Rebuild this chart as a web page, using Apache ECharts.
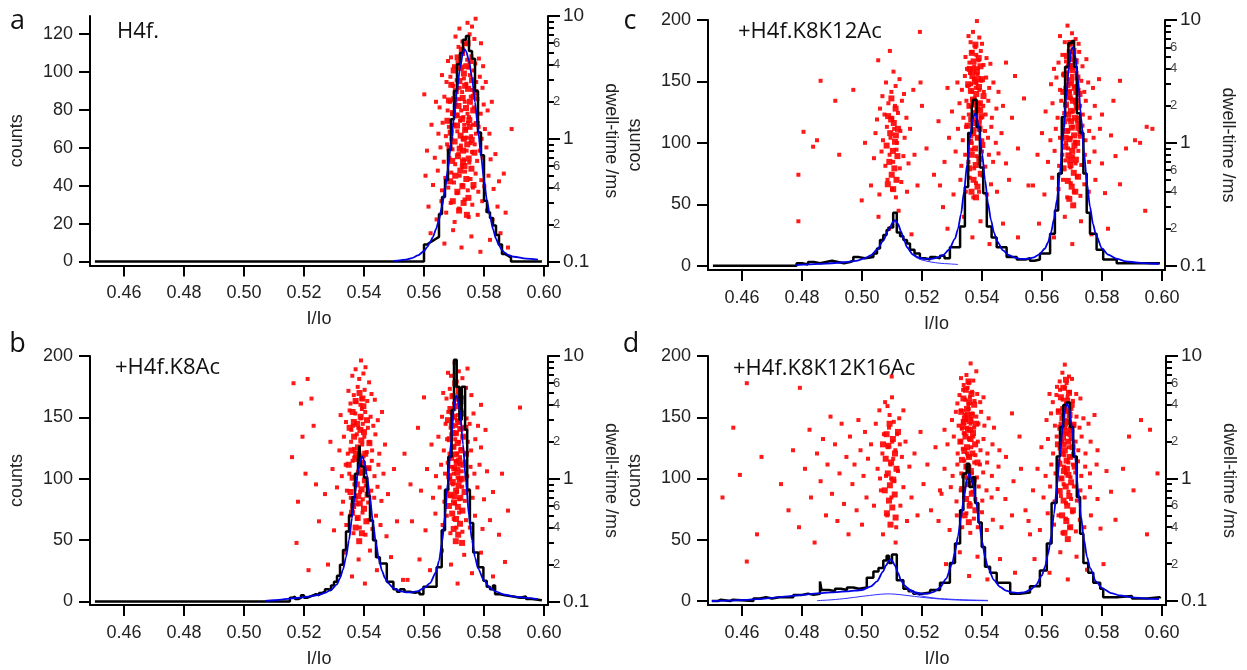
<!DOCTYPE html>
<html><head><meta charset="utf-8">
<script src="https://cdn.jsdelivr.net/npm/echarts@6/dist/echarts.min.js"></script>
<style>html,body{margin:0;padding:0;background:#fff}#c{width:1247px;height:670px}</style>
</head><body><div id="c"></div>
<script>
// ---------- tick labels / texts ----------
const xTicks = [0.46,0.48,0.50,0.52,0.54,0.56,0.58,0.60];
const countTicksA = [0,20,40,60,80,100,120];
const countTicksBCD = [0,50,100,150,200];
const dwellMajor = [0.1,1,10];
const dwellMinor = [0.2,0.3,0.4,0.5,0.6,0.7,0.8,0.9,2,3,4,5,6,7,8,9];
const dwellMinorLabels = [0.2,0.4,0.6,2,4,6];
const letters = ['a','b','c','d'];
const titles = ['H4f.','+H4f.K8Ac','+H4f.K8K12Ac','+H4f.K8K12K16Ac'];

// ---------- histograms (bin left edge, counts) ----------
const histA = [[0.4503,0],[0.560,9],[0.561,10],[0.562,11],[0.563,12],[0.564,13],[0.565,25],[0.566,34],[0.567,43],[0.568,59],[0.569,75],[0.570,90],[0.571,104],[0.572,110],[0.573,117],[0.574,119],[0.575,111],[0.576,107],[0.577,90],[0.578,68],[0.579,56],[0.580,32],[0.581,26],[0.582,23],[0.583,19],[0.584,14],[0.585,9],[0.586,4],[0.587,3],[0.588,2],[0.589,0],[0.5993,0]];
const histB = [[0.4503,0],[0.5153,3],[0.516,4],[0.517,2],[0.518,3],[0.519,5],[0.520,3],[0.521,4],[0.522,5],[0.523,6],[0.524,5],[0.525,7],[0.526,8],[0.527,10],[0.528,9],[0.529,13],[0.530,16],[0.531,21],[0.532,30],[0.533,42],[0.534,57],[0.535,70],[0.536,85],[0.537,104],[0.538,116],[0.5385,127],[0.539,110],[0.540,101],[0.541,86],[0.542,66],[0.543,50],[0.544,36],[0.5453,31],[0.5476,16],[0.5498,10],[0.551,8],[0.552,10],[0.5535,8],[0.5553,7],[0.557,8],[0.5585,6],[0.5598,12],[0.5642,28],[0.5659,58],[0.5670,91],[0.5681,118],[0.5692,156],[0.5700,197],[0.5709,175],[0.5718,148],[0.5726,175],[0.5737,140],[0.5744,91],[0.5753,64],[0.5764,40],[0.5781,28],[0.5798,17],[0.5809,12],[0.582,10],[0.583,13],[0.5837,6],[0.585,5],[0.587,4],[0.5898,3],[0.592,4],[0.594,2],[0.596,1],[0.5993,1]];
const histC = [[0.4503,0],[0.4782,2],[0.480,1],[0.482,3],[0.484,2],[0.486,3],[0.488,4],[0.490,3],[0.492,2],[0.494,3],[0.496,4],[0.4971,7],[0.499,6],[0.501,7],[0.5038,10],[0.505,14],[0.506,21],[0.5071,25],[0.5082,29],[0.509,31],[0.5104,43],[0.5116,27],[0.5127,24],[0.5138,21],[0.515,18],[0.516,13],[0.5175,10],[0.5193,6],[0.521,5],[0.5227,7],[0.5245,6],[0.526,8],[0.5275,6],[0.5293,15],[0.5327,32],[0.5343,64],[0.5354,108],[0.5366,129],[0.5371,135],[0.5382,113],[0.5393,80],[0.5404,59],[0.5416,32],[0.5432,23],[0.5449,15],[0.5482,7],[0.5516,5],[0.5545,6],[0.556,4],[0.5575,5],[0.5593,10],[0.5627,26],[0.5643,45],[0.5654,75],[0.5666,121],[0.5677,162],[0.5688,181],[0.5699,183],[0.5707,162],[0.5716,124],[0.5727,108],[0.5738,75],[0.5749,43],[0.5760,26],[0.5782,13],[0.5804,5],[0.5849,2],[0.5993,2]];
const histD = [[0.4499,0],[0.452,1],[0.453,0],[0.456,1],[0.457,0],[0.4638,2],[0.466,3],[0.468,2],[0.470,3],[0.4725,3],[0.4771,5],[0.480,6],[0.482,5],[0.4838,6],[0.486,16],[0.4865,9],[0.489,8],[0.491,10],[0.493,9],[0.495,11],[0.4971,10],[0.499,11],[0.5016,19],[0.5038,24],[0.5055,27],[0.5071,33],[0.5082,37],[0.509,31],[0.5100,38],[0.5116,17],[0.5138,10],[0.5155,8],[0.5171,6],[0.520,7],[0.5227,9],[0.526,15],[0.5293,31],[0.5310,47],[0.5327,74],[0.5338,104],[0.5349,112],[0.5358,93],[0.5369,101],[0.5377,80],[0.5388,64],[0.5399,44],[0.5410,28],[0.5427,23],[0.5449,15],[0.5494,6],[0.5525,7],[0.556,12],[0.5593,25],[0.5616,47],[0.5632,80],[0.5649,118],[0.5660,142],[0.5671,160],[0.5682,162],[0.5693,142],[0.5704,118],[0.5716,85],[0.5727,55],[0.5738,31],[0.5754,23],[0.5771,15],[0.5794,10],[0.5804,3],[0.585,4],[0.590,2],[0.595,3],[0.5993,2]];

// ---------- fitted curves (blue) ----------
const fitA = [[0.550,0.3],[0.552,0.6],[0.554,1.0],[0.556,1.8],[0.558,3.2],[0.560,5.5],[0.561,7.5],[0.562,10],[0.563,13],[0.564,17],[0.565,22],[0.566,29],[0.567,38],[0.568,49],[0.569,62],[0.570,76],[0.571,90],[0.572,102],[0.573,110],[0.5735,112],[0.574,111],[0.575,106],[0.576,97],[0.577,84],[0.578,70],[0.579,56],[0.580,43],[0.581,32],[0.582,24],[0.583,17],[0.584,12],[0.585,8.5],[0.586,6],[0.587,4.5],[0.588,3.5],[0.590,2.5],[0.594,1.5],[0.598,1.0]];
const fitB = [[0.507,0.5],[0.510,1],[0.513,1.8],[0.516,2.5],[0.519,3.2],[0.522,4.2],[0.525,5.5],[0.527,7],[0.529,9.5],[0.531,14],[0.532,19],[0.533,26],[0.534,36],[0.535,50],[0.536,68],[0.537,88],[0.538,106],[0.539,117],[0.5395,118],[0.540,115],[0.541,103],[0.542,84],[0.543,64],[0.544,47],[0.545,34],[0.546,25],[0.547,19],[0.548,15],[0.550,10.5],[0.552,8.5],[0.554,7.5],[0.556,7.5],[0.558,8.5],[0.560,11],[0.562,15],[0.564,24],[0.565,33],[0.566,48],[0.567,70],[0.568,98],[0.569,130],[0.570,158],[0.5707,168],[0.571,167],[0.572,155],[0.573,128],[0.574,97],[0.575,70],[0.576,50],[0.577,36],[0.578,27],[0.580,17],[0.582,11],[0.584,8],[0.587,5.5],[0.590,4],[0.594,3],[0.598,2]];
const fitC = [[0.478,0.5],[0.482,1],[0.486,1.5],[0.490,2],[0.494,2.8],[0.498,4],[0.501,6],[0.503,8.5],[0.505,13],[0.507,20],[0.509,30],[0.5105,36],[0.511,37],[0.512,34],[0.513,28],[0.514,21],[0.515,15],[0.517,9],[0.519,6.5],[0.521,5.5],[0.523,5.5],[0.525,6.5],[0.527,8.5],[0.529,13],[0.531,22],[0.532,30],[0.533,42],[0.534,60],[0.535,82],[0.536,104],[0.537,120],[0.5377,124],[0.538,123],[0.539,112],[0.540,92],[0.541,70],[0.542,51],[0.543,37],[0.544,27],[0.545,20],[0.547,12.5],[0.549,8.5],[0.551,6.5],[0.553,5.5],[0.555,5.5],[0.557,6.5],[0.559,9],[0.561,14],[0.562,19],[0.563,27],[0.564,38],[0.565,54],[0.566,76],[0.567,104],[0.568,135],[0.569,162],[0.5698,176],[0.5703,178],[0.571,172],[0.572,152],[0.573,122],[0.574,92],[0.575,67],[0.576,48],[0.577,34],[0.578,25],[0.580,14],[0.582,9],[0.585,5.5],[0.588,3.5],[0.592,2.5],[0.596,1.8],[0.599,1.5]];
const compC = [[0.515,15],[0.517,8.5],[0.519,5.5],[0.521,4],[0.523,3],[0.526,2],[0.529,1.5],[0.532,1]];
const fitD = [[0.450,0],[0.455,0.3],[0.460,0.8],[0.465,1.5],[0.470,2.5],[0.475,3.8],[0.480,5],[0.485,6.2],[0.490,7],[0.495,7.8],[0.500,9],[0.503,12],[0.505,16],[0.507,24],[0.508,29],[0.509,33],[0.5095,34],[0.510,33],[0.511,29],[0.512,23],[0.513,17],[0.514,13],[0.516,9],[0.518,7],[0.520,6],[0.522,6],[0.524,7.5],[0.526,11],[0.528,18],[0.530,30],[0.531,40],[0.532,53],[0.533,68],[0.534,85],[0.535,99],[0.5357,104],[0.536,103],[0.537,96],[0.538,82],[0.539,65],[0.540,49],[0.541,36],[0.542,27],[0.544,17],[0.546,11.5],[0.548,8.5],[0.550,7],[0.552,6.5],[0.554,7],[0.556,9],[0.558,13],[0.560,21],[0.561,28],[0.562,38],[0.563,52],[0.564,71],[0.565,94],[0.566,120],[0.567,145],[0.568,159],[0.5683,161],[0.569,158],[0.570,142],[0.571,118],[0.572,92],[0.573,69],[0.574,50],[0.575,36],[0.576,27],[0.578,16],[0.580,10.5],[0.583,6.5],[0.586,4.5],[0.590,3],[0.595,2],[0.599,1.5]];
const compD1 = [[0.485,0.3],[0.490,1],[0.495,2.2],[0.500,3.8],[0.505,5.2],[0.508,5.8],[0.511,5.6],[0.515,4.5],[0.520,3],[0.525,1.8],[0.530,1],[0.535,0.5],[0.542,0.2]];
const compD2 = [[0.513,17],[0.515,10],[0.518,5.5],[0.521,3.5],[0.525,2.2],[0.530,1.4],[0.535,0.9],[0.542,0.5]];

// ---------- events (I/Io, dwell-time in ms) ----------
const dotsA = [[0.5745,8.8],[0.5772,9.5],[0.5718,7.9],[0.5760,8.2],
[0.5705,6.8],[0.5728,6.2],[0.5752,7.1],[0.5768,6.5],[0.5738,5.9],[0.5790,6.0],[0.5715,5.6],
[0.5690,4.6],[0.5712,4.2],[0.5730,4.9],[0.5744,4.4],[0.5758,4.7],[0.5771,4.1],[0.5783,4.5],[0.5700,3.9],[0.5722,3.7],[0.5748,3.8],[0.5765,3.6],[0.5680,4.3],[0.5797,3.9],
[0.5660,3.3],[0.5675,2.9],[0.5688,3.2],[0.5698,2.7],[0.5709,3.0],[0.5719,2.6],[0.5733,3.1],[0.5741,2.8],[0.5753,3.3],[0.5762,2.5],[0.5774,2.9],[0.5786,3.2],[0.5795,2.6],[0.5806,2.9],[0.5727,2.4],[0.5703,2.3],
[0.5601,2.3],[0.5640,2.0],[0.5652,1.8],[0.5668,2.2],[0.5679,1.7],[0.5686,2.0],[0.5694,1.6],[0.5707,1.9],[0.5716,2.1],[0.5724,1.7],[0.5736,2.0],[0.5745,1.6],[0.5756,2.2],[0.5766,1.8],[0.5778,2.1],[0.5789,1.6],[0.5799,1.9],[0.5812,1.7],[0.5826,2.0],[0.5731,1.5],[0.5750,1.5],[0.5712,1.55],
[0.5625,1.3],[0.5648,1.1],[0.5662,1.35],[0.5673,1.05],[0.5683,1.25],[0.5692,1.0],[0.5701,1.3],[0.5711,1.15],[0.5720,1.4],[0.5729,1.0],[0.5739,1.2],[0.5747,1.35],[0.5757,1.05],[0.5764,1.3],[0.5773,1.1],[0.5782,1.25],[0.5792,1.0],[0.5803,1.2],[0.5818,1.1],[0.5892,1.2],[0.5734,1.3],[0.5743,1.02],
[0.5610,0.8],[0.5636,0.7],[0.5655,0.85],[0.5666,0.65],[0.5677,0.9],[0.5685,0.7],[0.5695,0.82],[0.5704,0.62],[0.5714,0.75],[0.5723,0.88],[0.5732,0.68],[0.5742,0.8],[0.5751,0.64],[0.5760,0.78],[0.5769,0.9],[0.5777,0.66],[0.5786,0.8],[0.5796,0.7],[0.5808,0.85],[0.5822,0.68],[0.5838,0.75],[0.5726,0.6],[0.5756,0.92],
[0.5605,0.5],[0.5630,0.42],[0.5646,0.55],[0.5660,0.38],[0.5671,0.48],[0.5681,0.4],[0.5691,0.53],[0.5700,0.44],[0.5710,0.36],[0.5719,0.5],[0.5728,0.42],[0.5737,0.54],[0.5746,0.38],[0.5755,0.47],[0.5763,0.4],[0.5772,0.52],[0.5781,0.37],[0.5791,0.46],[0.5801,0.41],[0.5815,0.5],[0.5832,0.39],[0.5850,0.45],[0.5866,0.52],
[0.5615,0.28],[0.5642,0.22],[0.5658,0.31],[0.5674,0.25],[0.5689,0.3],[0.5702,0.21],[0.5717,0.27],[0.5735,0.32],[0.5749,0.23],[0.5761,0.29],[0.5779,0.24],[0.5794,0.31],[0.5810,0.26],[0.5828,0.22],[0.5845,0.28],[0.5872,0.25],
[0.5622,0.17],[0.5668,0.14],[0.5697,0.18],[0.5725,0.13],[0.5758,0.16],[0.5788,0.12],[0.5820,0.15],[0.5855,0.17],[0.5880,0.13]];
const coreA = [[0.5712,4.6],[0.5741,3.9],[0.5726,5.3],[0.5755,4.3],[0.5699,3.6],[0.5733,3.4],[0.5760,3.0],[0.5718,2.95],[0.5691,2.75],[0.5747,2.55],[0.5771,2.4],[0.5706,2.45],[0.5729,2.15],[0.5683,2.05],[0.5753,2.0],[0.5715,1.85],[0.5740,1.78],[0.5764,1.7],[0.5697,1.62],[0.5727,1.45],[0.5678,1.4],[0.5751,1.42],[0.5710,1.28],[0.5737,1.18],[0.5776,1.32],[0.5689,1.12],[0.5722,1.06],[0.5759,0.98],[0.5702,0.95],[0.5744,0.9],[0.5685,0.84],[0.5730,0.8],[0.5768,0.77],[0.5713,0.72],[0.5749,0.69],[0.5694,0.66],[0.5735,0.6],[0.5721,0.55],[0.5758,0.57],[0.5704,0.5],[0.5741,0.47],[0.5687,0.45],[0.5728,0.41],[0.5765,0.42],[0.5711,0.37],[0.5748,0.33],[0.5732,0.3],[0.5696,0.31],[0.5717,0.26],[0.5743,0.24],[0.5737,2.7],[0.5723,3.8],[0.5708,1.55],[0.5733,1.0],[0.5752,1.25],[0.5719,0.83],[0.5766,2.2],[0.5701,2.1],[0.5745,6.0],[0.5730,0.65]];

const dotsB = [[0.5390,9.2],[0.5372,7.8],[0.5405,8.1],[0.5361,6.9],[0.5384,6.5],[0.5398,7.2],[0.5417,6.1],
[0.5348,5.2],[0.5366,4.8],[0.5379,5.6],[0.5391,4.5],[0.5402,5.3],[0.5411,4.3],[0.5425,4.9],[0.5355,4.1],[0.5388,4.0],[0.5436,4.4],[0.5374,4.2],
[0.5322,3.3],[0.5340,2.9],[0.5352,3.6],[0.5363,2.7],[0.5371,3.4],[0.5381,2.6],[0.5389,3.1],[0.5396,2.8],[0.5404,3.5],[0.5413,2.6],[0.5422,3.2],[0.5431,2.7],[0.5446,3.0],[0.5460,3.5],[0.5358,2.5],[0.5393,3.7],
[0.5288,2.0],[0.5318,1.7],[0.5333,2.2],[0.5346,1.6],[0.5357,2.0],[0.5367,1.75],[0.5376,2.3],[0.5385,1.55],[0.5394,1.9],[0.5401,2.2],[0.5409,1.65],[0.5418,2.0],[0.5427,1.7],[0.5438,2.3],[0.5451,1.6],[0.5470,1.9],[0.5369,1.5],[0.5399,1.52],
[0.5295,1.2],[0.5326,1.05],[0.5339,1.3],[0.5351,1.1],[0.5362,1.4],[0.5373,1.0],[0.5383,1.25],[0.5392,1.1],[0.5400,1.35],[0.5408,1.0],[0.5416,1.2],[0.5426,1.4],[0.5435,1.05],[0.5448,1.3],[0.5465,1.1],[0.5500,1.2],
[0.5270,0.75],[0.5310,0.85],[0.5330,0.65],[0.5343,0.8],[0.5356,0.7],[0.5368,0.9],[0.5378,0.62],[0.5387,0.78],[0.5396,0.68],[0.5406,0.88],[0.5414,0.64],[0.5424,0.8],[0.5434,0.7],[0.5445,0.86],[0.5458,0.66],[0.5480,0.75],
[0.5250,0.45],[0.5300,0.38],[0.5325,0.52],[0.5341,0.42],[0.5354,0.5],[0.5365,0.36],[0.5377,0.47],[0.5386,0.4],[0.5395,0.53],[0.5405,0.35],[0.5415,0.46],[0.5428,0.39],[0.5440,0.5],[0.5455,0.42],[0.5475,0.34],[0.5510,0.45],
[0.5280,0.2],[0.5335,0.25],[0.5360,0.16],[0.5382,0.22],[0.5403,0.14],[0.5420,0.26],[0.5443,0.18],[0.5490,0.23],[0.5530,0.15],
[0.5160,1.5],[0.5165,6.0],[0.5175,0.3],[0.5190,4.1],[0.5205,1.1],[0.5215,0.18],[0.5212,6.5],[0.5232,2.7],[0.5180,0.65],[0.5240,0.9],[0.5195,2.2],[0.5225,4.5],
[0.5702,8.8],[0.5716,7.5],[0.5690,6.9],[0.5728,6.6],[0.5709,6.2],[0.5745,7.9],[0.5680,7.3],
[0.5686,5.4],[0.5697,4.8],[0.5705,5.7],[0.5712,4.4],[0.5720,5.1],[0.5731,4.6],[0.5740,5.5],[0.5675,4.5],[0.5700,4.1],[0.5724,4.0],[0.5758,4.8],[0.5664,5.0],
[0.5660,3.2],[0.5672,2.8],[0.5681,3.5],[0.5689,2.6],[0.5695,3.1],[0.5701,3.7],[0.5707,2.7],[0.5713,3.3],[0.5718,2.9],[0.5725,3.6],[0.5733,2.6],[0.5742,3.1],[0.5752,2.8],[0.5765,3.4],[0.5780,2.7],[0.5692,3.4],[0.5710,3.0],[0.5722,2.55],
[0.5625,1.9],[0.5648,2.2],[0.5666,1.7],[0.5677,2.1],[0.5685,1.6],[0.5691,2.3],[0.5698,1.8],[0.5704,2.1],[0.5711,1.6],[0.5717,2.0],[0.5723,1.75],[0.5729,2.2],[0.5737,1.6],[0.5746,2.0],[0.5757,1.7],[0.5771,2.1],[0.5790,1.8],[0.5694,1.55],[0.5708,2.35],[0.5720,1.5],
[0.5610,1.2],[0.5640,1.05],[0.5657,1.3],[0.5670,1.1],[0.5679,1.35],[0.5687,1.0],[0.5693,1.25],[0.5699,1.1],[0.5706,1.4],[0.5712,1.02],[0.5719,1.3],[0.5726,1.15],[0.5735,1.38],[0.5744,1.05],[0.5755,1.25],[0.5768,1.1],[0.5785,1.3],[0.5810,1.15],[0.5702,1.2],[0.5715,1.2],
[0.5590,0.8],[0.5630,0.7],[0.5652,0.85],[0.5668,0.65],[0.5678,0.8],[0.5686,0.72],[0.5696,0.9],[0.5703,0.63],[0.5710,0.78],[0.5718,0.68],[0.5727,0.86],[0.5736,0.66],[0.5748,0.8],[0.5762,0.7],[0.5778,0.85],[0.5800,0.68],[0.5830,0.78],
[0.5560,0.45],[0.5605,0.38],[0.5638,0.52],[0.5662,0.42],[0.5676,0.5],[0.5688,0.36],[0.5699,0.47],[0.5708,0.4],[0.5717,0.53],[0.5728,0.37],[0.5740,0.46],[0.5753,0.4],[0.5770,0.5],[0.5795,0.39],[0.5820,0.46],[0.5850,0.35],
[0.5545,0.15],[0.5585,0.22],[0.5620,0.18],[0.5660,0.26],[0.5690,0.2],[0.5712,0.14],[0.5734,0.24],[0.5760,0.17],[0.5790,0.25],[0.5830,0.16],[0.5870,0.21],
[0.5790,4.0],[0.5805,2.5],[0.5880,0.55],[0.5920,3.8],[0.5860,1.1],[0.5600,4.6],[0.5580,2.6],[0.5535,1.6],[0.5555,0.9]];
const coreB = [[0.5385,5.0],[0.5372,4.3],[0.5398,3.9],[0.5362,3.5],[0.5389,3.2],[0.5410,3.0],[0.5377,2.8],[0.5352,2.6],[0.5400,2.4],[0.5367,2.2],[0.5391,2.05],[0.5418,1.95],[0.5380,1.8],[0.5358,1.7],[0.5404,1.6],[0.5371,1.45],[0.5393,1.35],[0.5349,1.3],[0.5415,1.22],[0.5383,1.12],[0.5362,1.02],[0.5403,0.97],[0.5376,0.9],[0.5392,0.82],[0.5355,0.78],[0.5412,0.74],[0.5369,0.68],[0.5386,0.63],[0.5400,0.57],[0.5360,0.53],[0.5379,0.48],[0.5408,0.45],[0.5372,0.4],[0.5393,0.36],[0.5384,0.31],[0.5366,2.9],[0.5395,4.5],[0.5388,2.5],[0.5374,1.6],[0.5397,1.15],[0.5381,0.72],[0.5364,0.6],
[0.5704,6.0],[0.5716,5.2],[0.5695,4.7],[0.5722,4.3],[0.5709,3.9],[0.5688,3.7],[0.5728,3.4],[0.5700,3.2],[0.5714,2.9],[0.5693,2.7],[0.5721,2.55],[0.5706,2.35],[0.5731,2.2],[0.5686,2.1],[0.5712,1.95],[0.5698,1.82],[0.5724,1.7],[0.5705,1.58],[0.5690,1.48],[0.5717,1.4],[0.5732,1.3],[0.5701,1.22],[0.5711,1.12],[0.5684,1.05],[0.5726,1.0],[0.5696,0.94],[0.5715,0.88],[0.5707,0.8],[0.5735,0.78],[0.5689,0.74],[0.5721,0.7],[0.5700,0.64],[0.5713,0.59],[0.5728,0.55],[0.5694,0.52],[0.5707,0.47],[0.5720,0.43],[0.5699,0.39],[0.5714,0.35],[0.5706,0.31],[0.5727,0.3],[0.5718,4.8],[0.5697,2.35],[0.5709,1.35],[0.5719,0.98],[0.5702,0.72],[0.5740,1.6],[0.5680,3.0],[0.5738,2.6],[0.5683,0.6]];

const dotsC = [[0.5093,5.6],[0.5105,3.8],[0.5193,8.0],[0.4862,3.2],[0.5054,4.7],
[0.5080,3.1],[0.5112,2.9],[0.5125,3.3],[0.5098,2.6],[0.5068,2.4],[0.5140,2.5],[0.5171,2.7],[0.5195,3.1],
[0.5060,1.9],[0.5075,1.7],[0.5088,2.1],[0.5101,1.6],[0.5110,2.0],[0.5120,1.75],[0.5133,2.2],[0.5148,1.6],[0.5050,1.55],
[0.5045,1.2],[0.5070,1.05],[0.5083,1.35],[0.5095,1.1],[0.5107,1.3],[0.5117,1.0],[0.5128,1.25],[0.5142,1.1],[0.5160,1.3],
[0.5040,0.75],[0.5065,0.85],[0.5078,0.65],[0.5092,0.8],[0.5104,0.7],[0.5115,0.88],[0.5126,0.62],[0.5138,0.78],[0.5155,0.68],[0.5175,0.8],
[0.5030,0.45],[0.5058,0.38],[0.5085,0.5],[0.5100,0.42],[0.5113,0.36],[0.5131,0.48],[0.5150,0.4],[0.5185,0.45],
[0.5055,0.25],[0.5090,0.2],[0.5122,0.28],[0.5165,0.18],
[0.4788,0.55],[0.4805,1.23],[0.4837,0.93],[0.4788,0.23],[0.4850,1.05],[0.4911,2.2],[0.4924,0.8],[0.4971,2.7],[0.4999,0.34],[0.5010,1.0],[0.5200,2.0],[0.5215,0.9],[0.5240,0.55],[0.5255,1.5],[0.5270,0.3],[0.5285,2.8],
[0.5383,9.8],[0.5370,8.0],[0.5391,7.2],[0.5362,6.6],[0.5378,6.0],[0.5400,6.4],[0.5355,7.4],
[0.5345,5.0],[0.5358,4.5],[0.5366,5.5],[0.5374,4.2],[0.5381,5.2],[0.5389,4.7],[0.5396,5.6],[0.5405,4.3],[0.5415,4.9],[0.5350,4.0],[0.5385,4.05],[0.5428,4.4],
[0.5318,3.1],[0.5333,2.7],[0.5343,3.5],[0.5352,2.9],[0.5360,3.7],[0.5367,2.6],[0.5373,3.3],[0.5379,2.8],[0.5385,3.6],[0.5391,2.7],[0.5398,3.2],[0.5406,2.6],[0.5414,3.4],[0.5424,2.8],[0.5438,3.1],[0.5455,2.6],[0.5364,3.0],[0.5382,3.05],
[0.5300,1.8],[0.5325,2.1],[0.5338,1.6],[0.5348,2.2],[0.5356,1.7],[0.5363,2.0],[0.5370,1.55],[0.5376,2.3],[0.5384,1.8],[0.5390,2.1],[0.5397,1.6],[0.5404,2.0],[0.5412,1.7],[0.5421,2.2],[0.5433,1.6],[0.5448,1.9],[0.5470,2.0],[0.5368,2.25],[0.5393,1.5],
[0.5290,1.1],[0.5320,1.3],[0.5336,1.05],[0.5347,1.35],[0.5357,1.15],[0.5366,1.0],[0.5375,1.3],[0.5383,1.1],[0.5392,1.4],[0.5401,1.05],[0.5410,1.25],[0.5420,1.1],[0.5431,1.35],[0.5446,1.0],[0.5465,1.2],
[0.5275,0.7],[0.5312,0.85],[0.5331,0.65],[0.5344,0.8],[0.5355,0.7],[0.5365,0.88],[0.5374,0.62],[0.5382,0.78],[0.5391,0.68],[0.5400,0.85],[0.5411,0.64],[0.5423,0.8],[0.5437,0.7],[0.5455,0.82],[0.5480,0.68],
[0.5260,0.45],[0.5305,0.38],[0.5328,0.5],[0.5346,0.4],[0.5359,0.52],[0.5371,0.36],[0.5380,0.47],[0.5390,0.4],[0.5402,0.54],[0.5416,0.38],[0.5430,0.46],[0.5450,0.4],[0.5490,0.5],
[0.5285,0.2],[0.5340,0.25],[0.5368,0.17],[0.5395,0.23],[0.5425,0.15],[0.5470,0.22],[0.5520,0.17],
[0.5500,1.6],[0.5520,0.9],[0.5540,2.3],[0.5555,0.45],[0.5510,3.5],[0.5480,4.5],
[0.5685,9.0],[0.5700,7.8],[0.5712,7.0],[0.5676,6.6],[0.5693,6.2],[0.5722,6.4],[0.5660,7.4],
[0.5668,5.2],[0.5680,4.6],[0.5689,5.6],[0.5697,4.3],[0.5705,5.3],[0.5714,4.7],[0.5724,5.5],[0.5735,4.2],[0.5655,4.5],[0.5702,4.05],[0.5748,4.8],[0.5640,4.0],
[0.5630,3.0],[0.5648,3.4],[0.5660,2.7],[0.5670,3.6],[0.5678,2.8],[0.5686,3.3],[0.5693,2.6],[0.5700,3.5],[0.5708,2.9],[0.5715,3.7],[0.5722,2.7],[0.5731,3.2],[0.5741,2.6],[0.5754,3.1],[0.5770,2.8],[0.5683,3.75],[0.5697,3.0],[0.5711,2.55],[0.5790,3.3],
[0.5612,1.8],[0.5635,2.1],[0.5652,1.6],[0.5664,2.2],[0.5674,1.75],[0.5682,2.0],[0.5690,1.55],[0.5697,2.3],[0.5704,1.8],[0.5711,2.1],[0.5719,1.6],[0.5727,2.0],[0.5736,1.7],[0.5746,2.2],[0.5759,1.6],[0.5776,2.0],[0.5800,1.7],[0.5687,2.35],[0.5716,1.52],
[0.5600,1.2],[0.5628,1.05],[0.5646,1.3],[0.5660,1.1],[0.5671,1.4],[0.5680,1.0],[0.5688,1.25],[0.5695,1.1],[0.5703,1.35],[0.5710,1.02],[0.5718,1.3],[0.5726,1.12],[0.5735,1.38],[0.5745,1.05],[0.5757,1.25],[0.5772,1.1],[0.5793,1.3],[0.5830,1.15],
[0.5585,0.8],[0.5620,0.7],[0.5642,0.86],[0.5657,0.65],[0.5668,0.8],[0.5678,0.72],[0.5687,0.9],[0.5695,0.63],[0.5703,0.78],[0.5712,0.68],[0.5721,0.86],[0.5731,0.66],[0.5743,0.8],[0.5757,0.7],[0.5775,0.85],[0.5800,0.68],[0.5845,0.78],
[0.5570,0.45],[0.5608,0.38],[0.5634,0.52],[0.5655,0.42],[0.5670,0.5],[0.5684,0.36],[0.5696,0.47],[0.5706,0.4],[0.5716,0.53],[0.5728,0.37],[0.5741,0.46],[0.5756,0.4],[0.5778,0.5],[0.5810,0.39],[0.5860,0.46],
[0.5590,0.22],[0.5640,0.17],[0.5676,0.25],[0.5701,0.15],[0.5730,0.23],[0.5765,0.18],[0.5820,0.2],
[0.5949,1.35],[0.5927,1.0],[0.5944,0.28],[0.5838,2.2],[0.5880,0.9],[0.5910,1.05],[0.5860,3.2],[0.5968,1.3]];
const coreC = [[0.5098,2.3],[0.5112,1.9],[0.5087,1.65],[0.5106,1.45],[0.5120,1.3],[0.5094,1.2],[0.5110,1.02],[0.5082,0.95],[0.5103,0.86],[0.5118,0.78],[0.5091,0.7],[0.5108,0.62],[0.5099,0.55],[0.5115,0.5],[0.5086,0.46],[0.5104,0.42],[0.5097,1.55],[0.5113,1.15],
[0.5378,6.3],[0.5366,5.4],[0.5389,4.9],[0.5372,4.6],[0.5395,4.2],[0.5359,4.0],[0.5383,3.8],[0.5368,3.5],[0.5400,3.3],[0.5376,3.15],[0.5354,3.0],[0.5390,2.85],[0.5363,2.65],[0.5381,2.5],[0.5405,2.4],[0.5370,2.25],[0.5393,2.1],[0.5358,2.0],[0.5385,1.9],[0.5374,1.75],[0.5398,1.65],[0.5364,1.55],[0.5380,1.45],[0.5352,1.38],[0.5392,1.3],[0.5371,1.2],[0.5386,1.1],[0.5360,1.02],[0.5401,0.96],[0.5377,0.9],[0.5366,0.8],[0.5391,0.74],[0.5379,0.66],[0.5357,0.62],[0.5396,0.56],[0.5372,0.5],[0.5385,0.44],[0.5365,0.4],[0.5380,0.36],[0.5387,3.3],[0.5375,2.05],[0.5369,3.9],[0.5394,1.85],[0.5361,1.15],
[0.5694,6.5],[0.5705,5.6],[0.5683,5.1],[0.5712,4.6],[0.5690,4.2],[0.5701,3.9],[0.5676,3.6],[0.5718,3.4],[0.5697,3.2],[0.5685,2.95],[0.5709,2.8],[0.5671,2.6],[0.5725,2.5],[0.5692,2.35],[0.5703,2.2],[0.5680,2.05],[0.5716,1.95],[0.5696,1.82],[0.5688,1.7],[0.5710,1.6],[0.5674,1.5],[0.5721,1.42],[0.5699,1.33],[0.5683,1.25],[0.5707,1.15],[0.5692,1.07],[0.5717,1.0],[0.5678,0.93],[0.5701,0.86],[0.5688,0.79],[0.5713,0.73],[0.5695,0.66],[0.5672,0.62],[0.5706,0.57],[0.5720,0.53],[0.5686,0.49],[0.5699,0.44],[0.5711,0.4],[0.5691,0.35],[0.5704,0.31],[0.5702,4.8],[0.5689,2.6],[0.5714,2.2],[0.5697,1.5],[0.5679,1.1],[0.5708,0.95],[0.5694,0.72],[0.5728,1.2]];

const dotsD = [[0.4616,6.0],[0.4571,2.6],[0.4593,1.07],[0.4616,0.21],[0.4535,0.7],[0.4665,1.5],[0.4650,0.35],
[0.4730,0.9],[0.4755,0.55],[0.4770,1.7],[0.4793,5.5],[0.4790,0.4],[0.4810,1.2],[0.4825,2.5],[0.4830,0.7],[0.4842,0.3],[0.4850,1.6],[0.4862,0.95],[0.4870,2.1],[0.4880,0.5],[0.4885,1.3],[0.4895,3.2],[0.4900,0.75],[0.4910,1.9],[0.4918,0.45],[0.4925,1.1],[0.4932,2.8],[0.4940,0.62],[0.4948,1.5],[0.4955,0.35],[0.4960,2.2],[0.4968,0.9],[0.4975,1.3],[0.4982,0.55],[0.4988,3.0],[0.4995,1.7],[0.5000,0.42],[0.5005,1.05],[0.5010,2.4],[0.5015,0.7],[0.5020,1.45],
[0.5030,1.9],[0.5040,0.6],[0.5046,2.8],[0.5052,1.2],[0.5058,3.6],[0.5063,0.8],[0.5068,1.6],[0.5073,2.3],[0.5077,4.2],[0.5080,1.05],[0.5084,0.5],[0.5087,1.8],[0.5090,2.6],[0.5092,3.3],[0.5095,1.3],[0.5098,0.7],[0.5101,2.0],[0.5104,1.45],[0.5106,2.9],[0.5108,0.95],[0.5111,1.7],[0.5114,0.4],[0.5117,2.3],[0.5120,1.15],[0.5124,3.1],[0.5128,0.6],[0.5133,1.5],[0.5138,0.85],[0.5145,2.0],[0.5150,0.45],[0.5158,1.25],[0.5165,0.7],[0.5175,1.6],[0.5185,0.5],[0.5195,2.4],[0.5205,0.9],[0.5218,1.3],[0.5230,0.55],[0.5245,1.8],[0.5260,0.8],[0.5275,2.5],[0.5100,4.6],[0.5085,3.9],[0.5070,0.35],[0.5112,0.3],[0.5060,1.0],[0.5097,1.0],[0.5126,1.9],[0.5099,6.8],[0.5138,3.6],
[0.5362,8.7],[0.5348,7.0],[0.5371,6.3],[0.5339,5.8],[0.5356,6.0],[0.5381,7.5],[0.5330,6.6],
[0.5325,4.8],[0.5337,5.3],[0.5345,4.4],[0.5352,5.5],[0.5360,4.6],[0.5367,5.1],[0.5375,4.3],[0.5384,4.9],[0.5394,4.2],[0.5318,4.1],[0.5355,4.05],[0.5405,4.6],
[0.5300,3.0],[0.5313,3.5],[0.5322,2.7],[0.5330,3.6],[0.5337,2.9],[0.5344,3.3],[0.5350,2.6],[0.5356,3.7],[0.5362,2.8],[0.5368,3.4],[0.5374,2.6],[0.5381,3.2],[0.5388,2.8],[0.5397,3.5],[0.5408,2.7],[0.5422,3.1],[0.5440,2.6],[0.5347,3.0],[0.5365,3.05],[0.5333,2.55],
[0.5285,1.9],[0.5306,2.2],[0.5319,1.6],[0.5328,2.0],[0.5336,1.75],[0.5343,2.3],[0.5350,1.6],[0.5357,2.1],[0.5364,1.8],[0.5371,2.2],[0.5378,1.55],[0.5386,2.0],[0.5395,1.7],[0.5405,2.1],[0.5418,1.6],[0.5435,1.9],[0.5458,1.7],[0.5353,1.52],[0.5339,2.35],
[0.5275,1.2],[0.5302,1.05],[0.5318,1.3],[0.5331,1.1],[0.5341,1.4],[0.5350,1.0],[0.5358,1.25],[0.5366,1.1],[0.5374,1.35],[0.5383,1.02],[0.5393,1.3],[0.5404,1.12],[0.5417,1.35],[0.5433,1.05],[0.5455,1.25],
[0.5265,0.75],[0.5296,0.85],[0.5315,0.65],[0.5329,0.8],[0.5340,0.7],[0.5350,0.9],[0.5359,0.63],[0.5368,0.78],[0.5378,0.68],[0.5389,0.86],[0.5401,0.66],[0.5415,0.8],[0.5432,0.7],[0.5452,0.82],[0.5478,0.68],
[0.5255,0.45],[0.5292,0.38],[0.5316,0.5],[0.5334,0.4],[0.5348,0.52],[0.5361,0.36],[0.5373,0.47],[0.5386,0.4],[0.5400,0.53],[0.5416,0.38],[0.5436,0.46],[0.5465,0.4],[0.5500,0.5],
[0.5280,0.2],[0.5326,0.25],[0.5357,0.16],[0.5385,0.23],[0.5418,0.15],[0.5460,0.22],[0.5510,0.17],
[0.5480,1.5],[0.5505,0.95],[0.5525,2.2],[0.5545,0.55],[0.5500,3.4],[0.5530,1.2],[0.5560,0.35],
[0.5676,8.5],[0.5668,7.3],[0.5690,6.8],[0.5659,6.2],[0.5682,6.0],[0.5700,6.5],[0.5650,5.6],
[0.5648,4.8],[0.5660,5.3],[0.5669,4.4],[0.5677,5.5],[0.5685,4.6],[0.5693,5.1],[0.5703,4.3],[0.5714,4.9],[0.5636,4.2],[0.5680,4.05],[0.5728,4.5],[0.5625,4.9],
[0.5615,3.0],[0.5630,3.4],[0.5643,2.7],[0.5653,3.6],[0.5662,2.8],[0.5670,3.3],[0.5677,2.6],[0.5684,3.5],[0.5691,2.9],[0.5698,3.7],[0.5706,2.7],[0.5715,3.2],[0.5725,2.6],[0.5738,3.1],[0.5755,2.8],[0.5667,3.75],[0.5681,3.0],[0.5695,2.55],[0.5775,3.3],
[0.5598,1.8],[0.5620,2.1],[0.5637,1.6],[0.5649,2.2],[0.5659,1.75],[0.5667,2.0],[0.5675,1.55],[0.5682,2.3],[0.5689,1.8],[0.5696,2.1],[0.5704,1.6],[0.5712,2.0],[0.5721,1.7],[0.5732,2.2],[0.5745,1.6],[0.5762,2.0],[0.5785,1.7],[0.5671,2.35],[0.5700,1.52],
[0.5585,1.2],[0.5612,1.05],[0.5631,1.3],[0.5645,1.1],[0.5656,1.4],[0.5665,1.0],[0.5673,1.25],[0.5680,1.1],[0.5688,1.35],[0.5695,1.02],[0.5703,1.3],[0.5711,1.12],[0.5720,1.38],[0.5731,1.05],[0.5744,1.25],[0.5760,1.1],[0.5782,1.3],[0.5815,1.15],
[0.5570,0.8],[0.5605,0.7],[0.5627,0.86],[0.5642,0.65],[0.5653,0.8],[0.5663,0.72],[0.5672,0.9],[0.5680,0.63],[0.5688,0.78],[0.5697,0.68],[0.5706,0.86],[0.5716,0.66],[0.5728,0.8],[0.5742,0.7],[0.5760,0.85],[0.5785,0.68],[0.5830,0.78],
[0.5555,0.45],[0.5593,0.38],[0.5619,0.52],[0.5640,0.42],[0.5655,0.5],[0.5668,0.36],[0.5680,0.47],[0.5691,0.4],[0.5701,0.53],[0.5713,0.37],[0.5726,0.46],[0.5741,0.4],[0.5763,0.5],[0.5795,0.39],[0.5845,0.46],
[0.5575,0.22],[0.5625,0.17],[0.5661,0.25],[0.5686,0.15],[0.5715,0.23],[0.5750,0.18],[0.5805,0.2],
[0.5930,3.0],[0.5870,1.2],[0.5950,0.35],[0.5985,1.1],[0.5905,0.8],[0.5890,2.2],[0.5960,2.5]];
const coreD = [[0.5092,2.8],[0.5082,2.3],[0.5103,2.1],[0.5088,1.85],[0.5110,1.6],[0.5079,1.45],[0.5097,1.35],[0.5115,1.2],[0.5086,1.1],[0.5104,0.98],[0.5093,0.88],[0.5076,0.8],[0.5109,0.74],[0.5090,0.66],[0.5101,0.58],[0.5083,0.52],[0.5112,0.48],[0.5095,0.42],[0.5070,1.9],[0.5120,2.4],
[0.5355,6.2],[0.5346,5.3],[0.5365,4.9],[0.5338,4.5],[0.5358,4.2],[0.5374,4.0],[0.5350,3.7],[0.5331,3.5],[0.5366,3.3],[0.5343,3.1],[0.5360,2.95],[0.5380,2.8],[0.5336,2.65],[0.5353,2.5],[0.5370,2.35],[0.5345,2.2],[0.5362,2.1],[0.5328,2.0],[0.5377,1.9],[0.5350,1.8],[0.5341,1.68],[0.5368,1.6],[0.5357,1.5],[0.5333,1.42],[0.5385,1.35],[0.5348,1.25],[0.5363,1.15],[0.5340,1.06],[0.5372,0.98],[0.5354,0.9],[0.5334,0.82],[0.5366,0.75],[0.5347,0.68],[0.5359,0.6],[0.5378,0.55],[0.5342,0.5],[0.5356,0.44],[0.5352,3.3],[0.5361,2.5],[0.5339,2.9],
[0.5680,6.4],[0.5671,5.5],[0.5690,5.0],[0.5663,4.6],[0.5684,4.3],[0.5699,4.0],[0.5675,3.7],[0.5656,3.5],[0.5692,3.3],[0.5668,3.1],[0.5686,2.9],[0.5705,2.75],[0.5661,2.6],[0.5678,2.45],[0.5695,2.3],[0.5670,2.15],[0.5688,2.0],[0.5653,1.9],[0.5702,1.8],[0.5676,1.7],[0.5666,1.6],[0.5693,1.5],[0.5682,1.4],[0.5658,1.32],[0.5709,1.25],[0.5673,1.15],[0.5688,1.07],[0.5665,1.0],[0.5697,0.93],[0.5679,0.86],[0.5659,0.79],[0.5691,0.72],[0.5672,0.66],[0.5684,0.6],[0.5703,0.55],[0.5667,0.5],[0.5681,0.45],[0.5694,0.4],[0.5675,0.36],[0.5686,0.32],[0.5677,2.8],[0.5689,3.6],[0.5672,1.9],[0.5697,2.5],[0.5683,1.2]];

// ---------- layout ----------
const FONT = "'Liberation Sans', Arial, sans-serif";
const TFONT = "'Open Sans', 'Noto Sans', sans-serif";
const lg = v => Math.log10(v);
const panels = [
  {hist:histA, fit:fitA, comps:[], dots:dotsA, core:coreA, counts:countTicksA,
   grid:{left:90, top:16, width:458, height:249.5}, xr:[0.448667,0.601333], yl:[-2.11,129.5], yr:[-1.0326,1], lp:[17.5,21], tp:[117,32]},
  {hist:histB, fit:fitB, comps:[], dots:dotsB, core:coreB, counts:countTicksBCD,
   grid:{left:90, top:356, width:458, height:249}, xr:[0.448667,0.601333], yl:[-2.851,200], yr:[-1.0285,1], lp:[17.5,344], tp:[115,367.5]},
  {hist:histC, fit:fitC, comps:[compC], dots:dotsC, core:coreC, counts:countTicksBCD,
   grid:{left:708, top:20, width:457, height:250}, xr:[0.448667,0.601], yl:[-3.5,200], yr:[-1.035,1], lp:[630,21.5], tp:[738,32]},
  {hist:histD, fit:fitD, comps:[compD1,compD2], dots:dotsD, core:coreD, counts:countTicksBCD,
   grid:{left:708, top:356, width:458, height:249}, xr:[0.448667,0.601333], yl:[-3.265,200], yr:[-1.0327,1], lp:[631,344], tp:[733,368.5]}
];
const axisLine = {show:true, onZero:false, lineStyle:{color:'#000', width:2}};
const tickStyle = {color:'#000', width:2};
const grid=[], xAxis=[], yAxis=[], series=[], graphic=[];
panels.forEach((p,i)=>{
  grid.push(Object.assign({containLabel:false}, p.grid));
  xAxis.push({type:'value', gridIndex:i, min:p.xr[0], max:p.xr[1], splitLine:{show:false}, axisLine:axisLine,
    axisTick:{show:true, customValues:xTicks, length:11, lineStyle:tickStyle},
    axisLabel:{customValues:xTicks, formatter:v=>v.toFixed(2), fontSize:18, color:'#222', fontFamily:FONT, margin:19},
    name:'I/Io', nameLocation:'middle', nameGap:45, nameTextStyle:{fontSize:18, color:'#222', fontFamily:FONT}});
  yAxis.push({type:'value', gridIndex:i, position:'left', min:p.yl[0], max:p.yl[1], splitLine:{show:false}, axisLine:axisLine,
    axisTick:{show:true, customValues:p.counts, length:11, lineStyle:tickStyle},
    axisLabel:{customValues:p.counts, fontSize:18, color:'#222', fontFamily:FONT, margin:17},
    name:'counts', nameLocation:'middle', nameRotate:90, nameGap:64, nameTextStyle:{fontSize:18, color:'#222', fontFamily:FONT}});
  yAxis.push({type:'value', gridIndex:i, position:'right', min:p.yr[0], max:p.yr[1], splitLine:{show:false}, axisLine:axisLine,
    axisTick:{show:true, customValues:dwellMajor.map(lg), length:12, lineStyle:tickStyle},
    axisLabel:{customValues:dwellMajor.map(lg), formatter:v=> v < -0.5 ? '0.1' : (v < 0.5 ? '1' : '10'), fontSize:19, color:'#222', fontFamily:FONT, margin:15},
    name:'dwell-time /ms', nameLocation:'middle', nameRotate:-90, nameGap:54, nameTextStyle:{fontSize:18, color:'#222', fontFamily:FONT}});
  yAxis.push({type:'value', gridIndex:i, position:'right', min:p.yr[0], max:p.yr[1], splitLine:{show:false}, axisLine:{show:false},
    axisTick:{show:true, customValues:dwellMinor.map(lg), length:6, lineStyle:tickStyle},
    axisLabel:{customValues:dwellMinorLabels.map(lg), formatter:v=>{const e=Math.floor(v+1e-9);return String(Math.round(Math.pow(10,v)/Math.pow(10,e)));}, fontSize:13, color:'#444', fontFamily:FONT, margin:5}});
  series.push({type:'scatter', xAxisIndex:i, yAxisIndex:3*i+1, data:p.dots.map(d=>[d[0], lg(d[1])]),
    symbol:'rect', symbolSize:4, itemStyle:{color:'#ff0000', opacity:0.9}, silent:true, animation:false, z:2});
  series.push({type:'scatter', xAxisIndex:i, yAxisIndex:3*i+1, data:p.core.map(d=>[d[0], lg(d[1])]),
    symbol:'rect', symbolSize:6, itemStyle:{color:'#ff0000', opacity:0.9}, silent:true, animation:false, z:2});
  series.push({type:'line', xAxisIndex:i, yAxisIndex:3*i, data:p.hist, step:'end', symbol:'none',
    lineStyle:{color:'#000', width:2.5}, silent:true, animation:false, z:3});
  p.comps.forEach(c=>series.push({type:'line', xAxisIndex:i, yAxisIndex:3*i, data:c, smooth:0.3, symbol:'none',
    lineStyle:{color:'#3030ff', width:1}, silent:true, animation:false, z:4}));
  series.push({type:'line', xAxisIndex:i, yAxisIndex:3*i, data:p.fit, smooth:0.25, smoothMonotone:'x', symbol:'none',
    lineStyle:{color:'#0000e6', width:1.8}, silent:true, animation:false, z:5});
  graphic.push({type:'text', x:p.lp[0], y:p.lp[1], style:{text:letters[i], font:'27px '+TFONT, fill:'#111', textAlign:'center', textVerticalAlign:'middle', align:'center', verticalAlign:'middle'}});
  graphic.push({type:'text', x:p.tp[0], y:p.tp[1], style:{text:titles[i], font:'22px '+TFONT, fill:'#111', textAlign:'left', textVerticalAlign:'middle', align:'left', verticalAlign:'middle'}});
});
const chart = echarts.init(document.getElementById('c'));
chart.setOption({animation:false, backgroundColor:'#fff', grid, xAxis, yAxis, series, graphic});
</script></body></html>
